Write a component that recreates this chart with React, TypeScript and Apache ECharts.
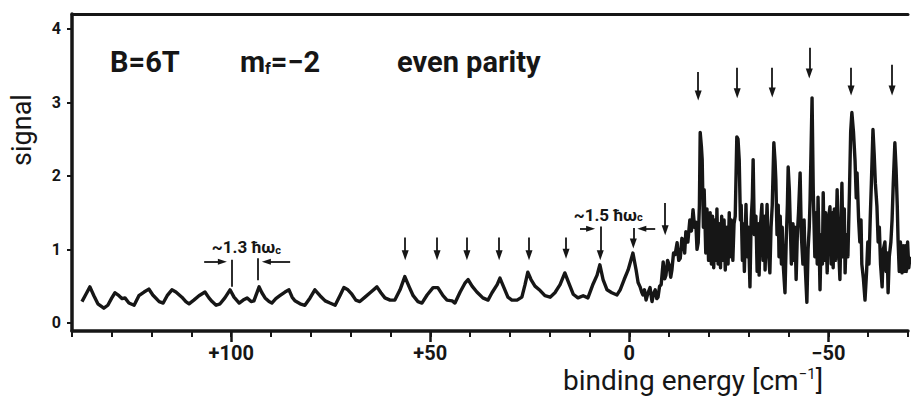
import React, { useEffect, useRef } from "react";
import * as echarts from "echarts";

// binding energy [cm^-1] (axis runs from +140 on the left to -70 on the right)
const energy = [
  137.5, 136.5, 135.5, 134.5, 133.5, 132.0, 131.0, 130.0, 129.2, 128.2, 127.4, 126.7, 125.7, 124.4, 123.2, 121.9,
  120.7, 119.7, 118.1, 117.1, 116.1, 114.9, 113.9, 112.4, 111.4, 110.6, 109.4, 108.1, 106.6, 105.6, 104.8, 103.8,
  102.8, 101.6, 100.3, 99.3, 98.0, 97.0, 96.0, 95.0, 94.3, 93.0, 92.3, 91.5, 90.5, 89.8, 88.8, 87.8, 86.5, 85.5,
  84.7, 84.0, 82.7, 81.5, 80.2, 79.0, 77.7, 76.4, 75.2, 73.9, 72.7, 71.7, 70.7, 69.7, 68.7, 67.7,
  66.4, 64.9, 63.4, 62.4, 61.4, 60.1, 58.9, 57.6, 56.4, 55.3, 54.3, 53.1, 52.1, 50.8, 49.3, 48.1, 46.8, 45.8,
  44.5, 43.8, 42.5, 41.3, 40.5, 39.5, 38.3, 36.8, 35.5, 34.5, 33.2, 32.5, 31.5, 30.5, 29.5, 28.2, 27.0, 26.2,
  25.5, 24.7, 23.7, 22.4, 21.2, 19.9, 18.7, 17.4, 16.2, 15.2, 14.1, 12.9, 11.6, 10.4, 9.1, 8.1, 7.4, 6.6, 5.6,
  4.4, 3.1, 2.3, 1.3, 0.3, -0.9,
  -1.7, -2.2, -2.7, -3.1, -3.4, -3.8, -4.2, -4.7, -5.2, -5.7,
  -6.1, -6.5, -6.9, -7.2, -7.6, -8.0, -8.5, -8.9, -9.2, -9.6,
  -10.0, -10.4, -10.7, -11.1, -11.5, -12.0, -12.4, -12.8, -13.2, -13.5,
  -13.9, -14.2, -14.7, -15.2, -15.6, -16.0, -16.4, -16.7, -17.0, -17.3,
  -17.6, -17.8, -18.1, -18.3, -18.6, -18.8, -19.2, -19.5, -19.9, -20.3,
  -20.6, -20.9, -21.2, -21.5, -21.8, -22.0, -22.3, -22.6, -22.9, -23.2,
  -23.5, -23.8, -24.1, -24.5, -24.8, -25.1, -25.3, -25.6, -26.0, -26.3,
  -26.6, -27.0, -27.3, -27.6, -27.9, -28.1, -28.4, -28.6, -28.9, -29.3,
  -29.6, -29.9, -30.3, -30.6, -30.9, -31.1, -31.4, -31.8, -32.1, -32.4,
  -32.6, -32.9, -33.3, -33.6, -33.9, -34.1, -34.4, -34.6, -34.9, -35.3,
  -35.6, -35.9, -36.3, -36.6, -36.8, -37.1, -37.4, -37.6, -37.9, -38.2,
  -38.4, -38.7, -39.1, -39.4, -39.7, -39.9, -40.2, -40.4, -40.7, -41.1,
  -41.4, -41.6, -41.9, -42.2, -42.5, -42.9, -43.2, -43.6, -43.9, -44.2,
  -44.6, -44.9, -45.2, -45.4, -45.7, -45.9, -46.2, -46.6, -46.9, -47.2,
  -47.4, -47.7, -47.9, -48.2, -48.5, -48.7, -49.0, -49.3, -49.7, -50.0,
  -50.4, -50.7, -51.0, -51.2, -51.5, -51.8, -52.2, -52.5, -52.9, -53.2,
  -53.4, -53.7, -54.0, -54.2, -54.5, -54.9, -55.3, -55.6, -55.9, -56.3,
  -56.7, -57.0, -57.2, -57.6, -57.9, -58.2, -58.4, -58.8, -59.2, -59.6,
  -59.9, -60.2, -60.5, -60.8, -61.2, -61.5, -61.8, -62.2, -62.5, -62.8,
  -63.1, -63.5, -63.8, -64.2, -64.5, -64.8, -65.0, -65.3, -65.7, -66.0,
  -66.3, -66.7, -67.0, -67.3, -67.5, -67.8, -68.1, -68.5, -68.8, -69.1,
  -69.3, -69.6, -69.9, -70.2, -70.5,
];

const signal = [
  0.29, 0.39, 0.49, 0.37, 0.26, 0.2, 0.24, 0.34, 0.41, 0.37, 0.33, 0.34, 0.27, 0.24, 0.37, 0.42,
  0.46, 0.38, 0.29, 0.27, 0.37, 0.45, 0.42, 0.35, 0.29, 0.26, 0.31, 0.37, 0.42, 0.34, 0.29, 0.24,
  0.26, 0.34, 0.45, 0.35, 0.27, 0.31, 0.34, 0.29, 0.3, 0.49, 0.41, 0.34, 0.29, 0.27, 0.33, 0.37, 0.42, 0.45,
  0.35, 0.3, 0.26, 0.24, 0.34, 0.45, 0.37, 0.3, 0.27, 0.24, 0.37, 0.48, 0.45, 0.39, 0.31, 0.29,
  0.35, 0.42, 0.49, 0.41, 0.34, 0.31, 0.31, 0.45, 0.63, 0.49, 0.37, 0.29, 0.27, 0.38, 0.48, 0.48, 0.37, 0.31,
  0.3, 0.27, 0.42, 0.54, 0.59, 0.5, 0.42, 0.34, 0.31, 0.41, 0.52, 0.61, 0.48, 0.35, 0.31, 0.31, 0.35, 0.52,
  0.69, 0.59, 0.5, 0.44, 0.37, 0.35, 0.41, 0.52, 0.68, 0.54, 0.39, 0.34, 0.37, 0.34, 0.53, 0.65, 0.79, 0.59, 0.45,
  0.41, 0.38, 0.45, 0.59, 0.72, 0.95,
  0.72, 0.55, 0.49, 0.42, 0.38, 0.45, 0.31, 0.41, 0.48, 0.29,
  0.40, 0.45, 0.33, 0.35, 0.50, 0.52, 0.83, 0.60, 0.65, 0.85,
  0.79, 0.62, 0.72, 0.95, 0.93, 1.09, 0.85, 0.88, 1.15, 1.13,
  0.95, 1.24, 1.10, 1.40, 1.25, 1.54, 1.30, 1.37, 1.00, 1.09,
  1.60, 2.59, 2.40, 2.22, 1.30, 1.81, 0.95, 1.55, 0.85, 1.50,
  0.80, 1.45, 0.75, 1.40, 0.85, 1.55, 0.80, 1.35, 0.75, 1.45,
  0.85, 1.40, 0.72, 1.30, 0.80, 1.50, 0.90, 1.40, 0.85, 1.35,
  1.45, 2.53, 2.50, 2.22, 1.40, 1.60, 0.85, 1.35, 0.70, 1.61,
  0.90, 1.30, 0.49, 1.40, 1.70, 2.22, 1.20, 1.45, 0.70, 1.35,
  0.65, 1.30, 1.61, 0.85, 1.45, 0.72, 1.30, 1.61, 1.00, 0.68,
  1.30, 1.60, 2.45, 2.20, 1.95, 1.20, 1.60, 0.90, 1.45, 0.80,
  1.30, 0.75, 0.41, 1.10, 1.60, 2.12, 1.80, 1.40, 0.80, 1.35,
  0.85, 1.30, 0.59, 1.20, 1.50, 2.04, 1.20, 0.80, 1.40, 0.75,
  0.28, 1.00, 1.30, 1.67, 2.50, 3.06, 1.80, 0.90, 1.50, 0.80,
  1.71, 1.00, 0.45, 1.20, 0.80, 1.77, 0.85, 1.50, 0.68, 1.40,
  1.58, 0.80, 1.50, 0.75, 1.55, 0.85, 1.81, 1.10, 0.59, 1.40,
  1.90, 0.90, 1.55, 0.68, 1.20, 0.90, 1.80, 2.60, 2.86, 2.60,
  2.20, 1.70, 2.04, 1.40, 1.10, 1.40, 0.80, 0.60, 0.31, 0.70,
  1.10, 0.80, 1.40, 1.90, 2.63, 2.30, 1.90, 1.58, 1.10, 1.30,
  0.80, 0.49, 1.00, 1.10, 0.70, 0.95, 0.41, 0.90, 1.10, 1.40,
  1.90, 2.45, 2.10, 1.60, 1.13, 0.70, 1.10, 0.68, 1.05, 0.70,
  1.05, 0.70, 1.10, 0.75, 0.90,
];

// axis ticks
const yTicks = [0, 1, 2, 3, 4];
const xMajorTicks = [100, 50, 0, -50];

// vertical arrows marking peaks: position, top of shaft, tip
const arrowEnergy = [56.3, 48.3, 40.8, 32.7, 25.2, 15.9, 7.3, -1.0, -9.0, -17.3, -27.1, -35.9, -45.2, -55.7, -66.0];
const arrowTop = [1.16, 1.16, 1.16, 1.16, 1.16, 1.16, 1.31, 1.29, 1.63, 3.41, 3.47, 3.47, 3.74, 3.47, 3.51];
const arrowTip = [0.86, 0.86, 0.86, 0.86, 0.86, 0.88, 0.86, 1.02, 1.2, 3.03, 3.06, 3.07, 3.33, 3.1, 3.1];

// spacing markers (~1.3 hw_c): plain vertical bars
const barEnergy = [99.8, 93.3];
const barTop = [0.86, 0.88];
const barBottom = [0.49, 0.58];

// horizontal spacing arrows: from, tip, level
const hArrowFrom = [106.8, 85.2, 12.4, -6.5];
const hArrowTo = [101.1, 92.3, 8.6, -2.0];
const hArrowLevel = [0.83, 0.83, 1.28, 1.28];

// spacing labels
const spacingText = ["1.3", "1.5"];
const spacingEnergy = [96.2, 5.3];
const spacingLevel = [1.03, 1.47];

const INK = "#161616";
const FONT = "Roboto";

export default function App() {
  const ref = useRef<HTMLDivElement>(null);

  useEffect(() => {
    if (!ref.current) return;
    const chart = echarts.init(ref.current, null, { renderer: "svg" });

    const pxY = 4.31 / 317; // value per pixel on y
    const pxX = 210 / 836; // value per pixel on x
    const headHalf = 4.5;

    const markLines: any[] = [];
    arrowEnergy.forEach((e, i) => {
      markLines.push([
        { coord: [e, arrowTop[i]], symbol: "none" },
        { coord: [e, arrowTip[i] + headHalf * pxY], symbol: "triangle", symbolSize: [7, 10] },
      ]);
    });
    barEnergy.forEach((e, i) => {
      markLines.push([
        { coord: [e, barTop[i]], symbol: "none" },
        { coord: [e, barBottom[i]], symbol: "none" },
      ]);
    });
    hArrowFrom.forEach((f, i) => {
      const to = hArrowTo[i];
      const dir = to < f ? -1 : 1;
      markLines.push([
        { coord: [f, hArrowLevel[i]], symbol: "none" },
        { coord: [to - dir * headHalf * pxX, hArrowLevel[i]], symbol: "triangle", symbolSize: [6, 9] },
      ]);
    });

    const option: any = {
      animation: false,
      backgroundColor: "#ffffff",
      textStyle: { fontFamily: FONT, color: INK },
      grid: { left: 72, right: 3, top: 14, bottom: 67, containLabel: false, outerBoundsMode: "none" },
      xAxis: [
        {
          type: "value",
          min: -70,
          max: 140,
          inverse: true,
          interval: 10,
          position: "bottom",
          axisLine: { show: true, onZero: false, lineStyle: { color: INK, width: 3.5 } },
          axisTick: { show: true, inside: false, length: 6, lineStyle: { color: INK, width: 2 } },
          axisLabel: { show: false },
          splitLine: { show: false },
        },
        {
          type: "value",
          min: -70,
          max: 140,
          inverse: true,
          position: "bottom",
          axisLine: { show: false, onZero: false },
          axisTick: { show: true, length: 11, customValues: xMajorTicks, lineStyle: { color: INK, width: 2.5 } },
          axisLabel: {
            show: true,
            customValues: xMajorTicks,
            fontSize: 20,
            lineHeight: 17,
            fontWeight: "bold",
            margin: 13,
            color: INK,
            fontFamily: FONT,
            formatter: (v: number) => (v > 0 ? "+" + v : v < 0 ? "\u2212" + Math.abs(v) : "0"),
          },
          splitLine: { show: false },
        },
        {
          type: "value",
          min: -70,
          max: 140,
          inverse: true,
          position: "top",
          axisLine: { show: true, onZero: false, lineStyle: { color: INK, width: 3 } },
          axisTick: { show: false },
          axisLabel: { show: false },
          splitLine: { show: false },
        },
      ],
      yAxis: {
        type: "value",
        min: -0.11,
        max: 4.2,
        axisLine: { show: true, onZero: false, lineStyle: { color: INK, width: 3.5 } },
        axisTick: { show: true, length: 5, customValues: yTicks, lineStyle: { color: INK, width: 2 } },
        axisLabel: {
          show: true,
          customValues: yTicks,
          fontSize: 16,
          fontWeight: "bold",
          margin: 11,
          color: INK,
          fontFamily: FONT,
        },
        splitLine: { show: false },
      },
      series: [
        {
          type: "line",
          xAxisIndex: 0,
          data: energy.map((e, i) => [e, signal[i]]),
          symbol: "none",
          showSymbol: false,
          lineStyle: { color: INK, width: 3.4, join: "round" },
          silent: true,
          markLine: {
            silent: true,
            animation: false,
            label: { show: false },
            emphasis: { disabled: true },
            lineStyle: { color: INK, width: 1.8, type: "solid" },
            itemStyle: { color: INK },
            data: markLines,
          },
          markPoint: {
            silent: true,
            animation: false,
            symbol: "circle",
            symbolSize: 1,
            itemStyle: { color: "rgba(0,0,0,0)" },
            label: {
              show: true,
              position: "inside",
              fontFamily: FONT,
              color: INK,
              fontSize: 17,
              fontWeight: "bold",
              rich: { s: { fontFamily: FONT, color: INK, fontSize: 11, fontWeight: "bold", verticalAlign: "bottom" } },
              formatter: (p: any) => "~" + p.name + " \u0127\u03c9{s|c}",
            },
            data: spacingText.map((t, i) => ({ name: t, coord: [spacingEnergy[i], spacingLevel[i]] })),
          },
        },
      ],
      graphic: [
        {
          type: "text",
          x: 22,
          y: 130,
          rotation: Math.PI / 2,
          silent: true,
          style: { text: "signal", fontSize: 27, fontFamily: FONT, fill: INK, align: "center", verticalAlign: "middle" },
        },
        {
          type: "text",
          x: 563,
          y: 380,
          silent: true,
          style: {
            text: "binding energy [cm{sup|\u22121}]",
            fontSize: 28,
            lineHeight: 28,
            fontFamily: FONT,
            fill: INK,
            align: "left",
            verticalAlign: "middle",
            rich: { sup: { fontSize: 15, fontFamily: FONT, fill: INK, verticalAlign: "top" } },
          },
        },
        {
          type: "text",
          x: 110,
          y: 62,
          silent: true,
          style: {
            text: "B=6T",
            fontSize: 29,
            fontWeight: "bold",
            fontFamily: FONT,
            fill: INK,
            align: "left",
            verticalAlign: "middle",
          },
        },
        {
          type: "text",
          x: 240,
          y: 62,
          silent: true,
          style: {
            text: "m{sub|f}=\u22122",
            fontSize: 29,
            fontWeight: "bold",
            fontFamily: FONT,
            fill: INK,
            align: "left",
            verticalAlign: "middle",
            rich: { sub: { fontSize: 16, fontWeight: "bold", fontFamily: FONT, fill: INK, verticalAlign: "bottom" } },
          },
        },
        {
          type: "text",
          x: 397,
          y: 62,
          silent: true,
          style: {
            text: "even parity",
            fontSize: 29,
            fontWeight: "bold",
            fontFamily: FONT,
            fill: INK,
            align: "left",
            verticalAlign: "middle",
          },
        },
      ],
    };

    chart.setOption(option);
    return () => chart.dispose();
  }, []);

  return <div ref={ref} style={{ position: "absolute", left: 0, top: 0, width: 911, height: 398 }} />;
}
